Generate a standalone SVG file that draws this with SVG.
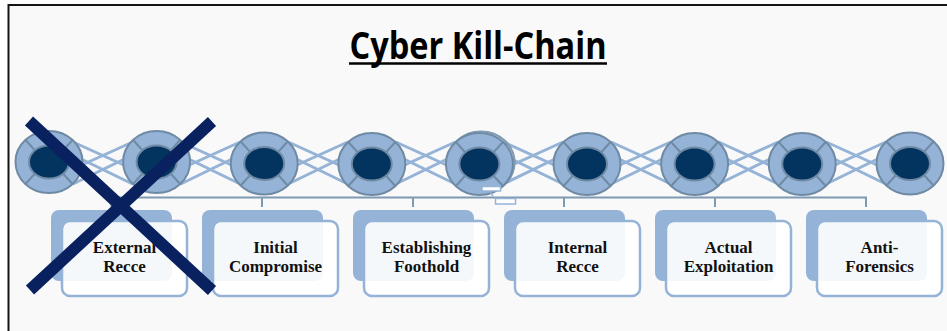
<svg xmlns="http://www.w3.org/2000/svg" width="947" height="331" viewBox="0 0 947 331">
<defs>
<style>
.ring{fill:#95b3d7;stroke:#6f8aa4;stroke-width:2}
.hub{fill:#03335f;stroke:#6f8aa4;stroke-width:2}
.spoke{stroke:#6f8aa4;stroke-width:2}
.lat{stroke:#95b3d7;stroke-width:3;fill:none}
.brk{stroke:#7f9ab3;stroke-width:2;fill:none}
.back{fill:#95b3d7}
.front{fill:#ffffff;fill-opacity:0.9;stroke:#95b3d7;stroke-width:2.5}
.lbl{font-family:"Liberation Serif","Times New Roman",serif;font-weight:bold;font-size:17px;fill:#111;text-anchor:middle}
.title{font-family:"Open Sans","Liberation Sans",sans-serif;font-weight:bold;font-size:37px;fill:#000;text-anchor:middle}
.xbar{stroke:#0a215f;stroke-width:12;stroke-linecap:butt}
.art{fill:#fff;stroke:#95b3d7;stroke-width:1.5}
</style>
<g id="ringShape">
<ellipse class="ring" cx="0" cy="0" rx="33.5" ry="31"/>
<line class="spoke" x1="-14" y1="-11.5" x2="-23.5" y2="-22"/>
<line class="spoke" x1="14" y1="-11.5" x2="23.5" y2="-22"/>
<line class="spoke" x1="-14" y1="11.5" x2="-23.5" y2="22"/>
<line class="spoke" x1="14" y1="11.5" x2="23.5" y2="22"/>
<ellipse class="hub" cx="0" cy="0" rx="20" ry="16.5"/>
</g>
<g id="lattice">
<line class="lat" x1="24" y1="-21" x2="83.6" y2="6"/>
<line class="lat" x1="28" y1="-6" x2="83.6" y2="21"/>
<line class="lat" x1="83.6" y1="-21" x2="24" y2="6"/>
<line class="lat" x1="79.6" y1="-6" x2="24" y2="21"/>
</g>
</defs>
<rect x="0" y="0" width="947" height="331" fill="#ffffff"/>
<rect x="8.5" y="5" width="939" height="326" fill="#f9f9fa"/>
<line x1="8.5" y1="5" x2="947" y2="5" stroke="#141414" stroke-width="2"/>
<line x1="8.5" y1="4" x2="8.5" y2="331" stroke="#141414" stroke-width="2"/>

<g id="title">
<text class="title" x="478" y="59" textLength="257" lengthAdjust="spacingAndGlyphs">Cyber Kill-Chain</text>
<line x1="349" y1="63.5" x2="607" y2="63.5" stroke="#000" stroke-width="2.5"/>
</g>

<g id="connectors">
<use href="#lattice" x="49" y="163"/>
<use href="#lattice" x="156.6" y="163"/>
<use href="#lattice" x="264.2" y="163"/>
<use href="#lattice" x="371.8" y="163"/>
<use href="#lattice" x="479.4" y="163"/>
<use href="#lattice" x="587" y="163"/>
<use href="#lattice" x="694.6" y="163"/>
<use href="#lattice" x="802.2" y="163"/>
<path class="brk" d="M111.5,207 V197.5 H866 V207 M262,197.5 V207 M413,197.5 V207 M564,197.5 V207 M715,197.5 V207"/>
</g>

<g id="ring1"><use href="#ringShape" x="49" y="162"/></g>
<g id="ring2"><use href="#ringShape" x="156.6" y="162"/></g>
<g id="ring3"><use href="#ringShape" x="264.2" y="163.5"/></g>
<g id="ring4"><use href="#ringShape" x="371.8" y="164"/></g>
<g id="ring5">
<ellipse cx="481" cy="162.5" rx="33.5" ry="31" fill="none" stroke="#7f9ab3" stroke-width="2"/>
<use href="#ringShape" x="479.4" y="164"/>
</g>
<g id="ring6"><use href="#ringShape" x="587" y="164"/></g>
<g id="ring7"><use href="#ringShape" x="694.6" y="164"/></g>
<g id="ring8"><use href="#ringShape" x="802.2" y="164"/></g>
<g id="ring9"><use href="#ringShape" x="910" y="163.5"/></g>

<g id="artifacts">
<rect class="art" x="482" y="186.5" width="18.5" height="4.5"/>
<path d="M490,191 L493,196.5" stroke="#95b3d7" stroke-width="1.5" fill="none"/>
<rect class="art" x="495.5" y="198.5" width="20" height="5.5"/>
</g>

<g id="box1">
<rect class="back" x="51" y="210" width="121" height="71" rx="8"/>
<rect class="front" x="62" y="221" width="125" height="75" rx="8"/>
<text class="lbl" x="124.5" y="253">External</text>
<text class="lbl" x="124.5" y="272">Recce</text>
</g>
<g id="box2">
<rect class="back" x="202" y="210" width="121" height="71" rx="8"/>
<rect class="front" x="213" y="221" width="125" height="75" rx="8"/>
<text class="lbl" x="275.5" y="253">Initial</text>
<text class="lbl" x="275.5" y="272">Compromise</text>
</g>
<g id="box3">
<rect class="back" x="353" y="210" width="121" height="71" rx="8"/>
<rect class="front" x="364" y="221" width="125" height="75" rx="8"/>
<text class="lbl" x="426.5" y="253">Establishing</text>
<text class="lbl" x="426.5" y="272">Foothold</text>
</g>
<g id="box4">
<rect class="back" x="504" y="210" width="121" height="71" rx="8"/>
<rect class="front" x="515" y="221" width="125" height="75" rx="8"/>
<text class="lbl" x="577.5" y="253">Internal</text>
<text class="lbl" x="577.5" y="272">Recce</text>
</g>
<g id="box5">
<rect class="back" x="655" y="210" width="121" height="71" rx="8"/>
<rect class="front" x="666" y="221" width="125" height="75" rx="8"/>
<text class="lbl" x="728.5" y="253">Actual</text>
<text class="lbl" x="728.5" y="272">Exploitation</text>
</g>
<g id="box6">
<rect class="back" x="806" y="210" width="121" height="71" rx="8"/>
<rect class="front" x="817" y="221" width="125" height="75" rx="8"/>
<text class="lbl" x="879.5" y="253">Anti-</text>
<text class="lbl" x="879.5" y="272">Forensics</text>
</g>

<g id="cross">
<line class="xbar" x1="29" y1="121" x2="212" y2="290.5"/>
<line class="xbar" x1="212" y1="121.5" x2="30" y2="290"/>
</g>
</svg>
